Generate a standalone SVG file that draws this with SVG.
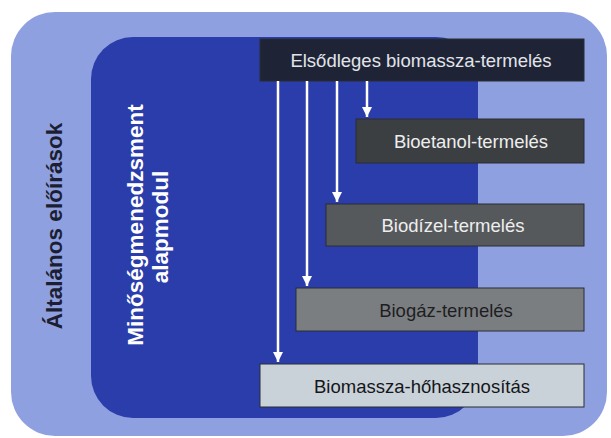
<svg xmlns="http://www.w3.org/2000/svg" width="611" height="438" viewBox="0 0 611 438">
<defs>
<marker id="ah" viewBox="0 0 10 10" refX="10" refY="5" markerWidth="10" markerHeight="10" markerUnits="userSpaceOnUse" orient="auto">
<path d="M0,0 L10,5 L0,10 z" fill="#ffffff"/>
</marker>
<style>
.t{font-family:"Liberation Sans",Arial,sans-serif;font-size:18.5px;text-anchor:middle}
.v{font-family:"Liberation Sans",Arial,sans-serif;font-size:22.5px;font-weight:bold;text-anchor:middle}
.box{stroke:#2a2d33;stroke-width:1}
.arr{stroke:#ffffff;stroke-width:2.5;fill:none;marker-end:url(#ah)}
</style>
</defs>
<rect width="611" height="438" fill="#ffffff"/>
<g id="altalanos">
<rect x="11" y="12" width="596" height="424" rx="44" fill="#8fa0e0"/>
<text class="v" transform="translate(62,226) rotate(-90)" fill="#1c1f33">Általános előírások</text>
</g>
<g id="minoseg">
<rect x="91" y="37" width="387" height="381" rx="42" fill="#2b3dab"/>
<text class="v" transform="translate(143,225) rotate(-90)" fill="#ffffff">Minőségmenedzsment</text>
<text class="v" transform="translate(168,227) rotate(-90)" fill="#ffffff">alapmodul</text>
</g>
<g id="elsodleges">
<rect class="box" x="260" y="39" width="324" height="42" fill="#1e2436"/>
<text class="t" x="421" y="67" fill="#e2e4ea">Elsődleges biomassza-termelés</text>
</g>
<g id="bioetanol">
<rect class="box" x="356" y="119" width="228" height="44" fill="#3c3f42"/>
<text class="t" x="471" y="148" fill="#eeeeee">Bioetanol-termelés</text>
</g>
<g id="biodizel">
<rect class="box" x="326" y="204" width="258" height="42" fill="#56595c"/>
<text class="t" x="453" y="232" fill="#eeeeee">Biodízel-termelés</text>
</g>
<g id="biogaz">
<rect class="box" x="296" y="288" width="288" height="43" fill="#7b7e81"/>
<text class="t" x="446" y="317" fill="#1e1e22">Biogáz-termelés</text>
</g>
<g id="hohasznositas">
<rect class="box" x="260" y="364" width="324" height="43" fill="#c9d2d8"/>
<text class="t" x="422" y="393" fill="#15161a">Biomassza-hőhasznosítás</text>
</g>
<g id="connectors">
<line class="arr" x1="367" y1="81" x2="367" y2="117"/>
<line class="arr" x1="337" y1="81" x2="337" y2="202"/>
<line class="arr" x1="307" y1="81" x2="307" y2="286"/>
<line class="arr" x1="278" y1="81" x2="278" y2="362"/>
</g>
</svg>
